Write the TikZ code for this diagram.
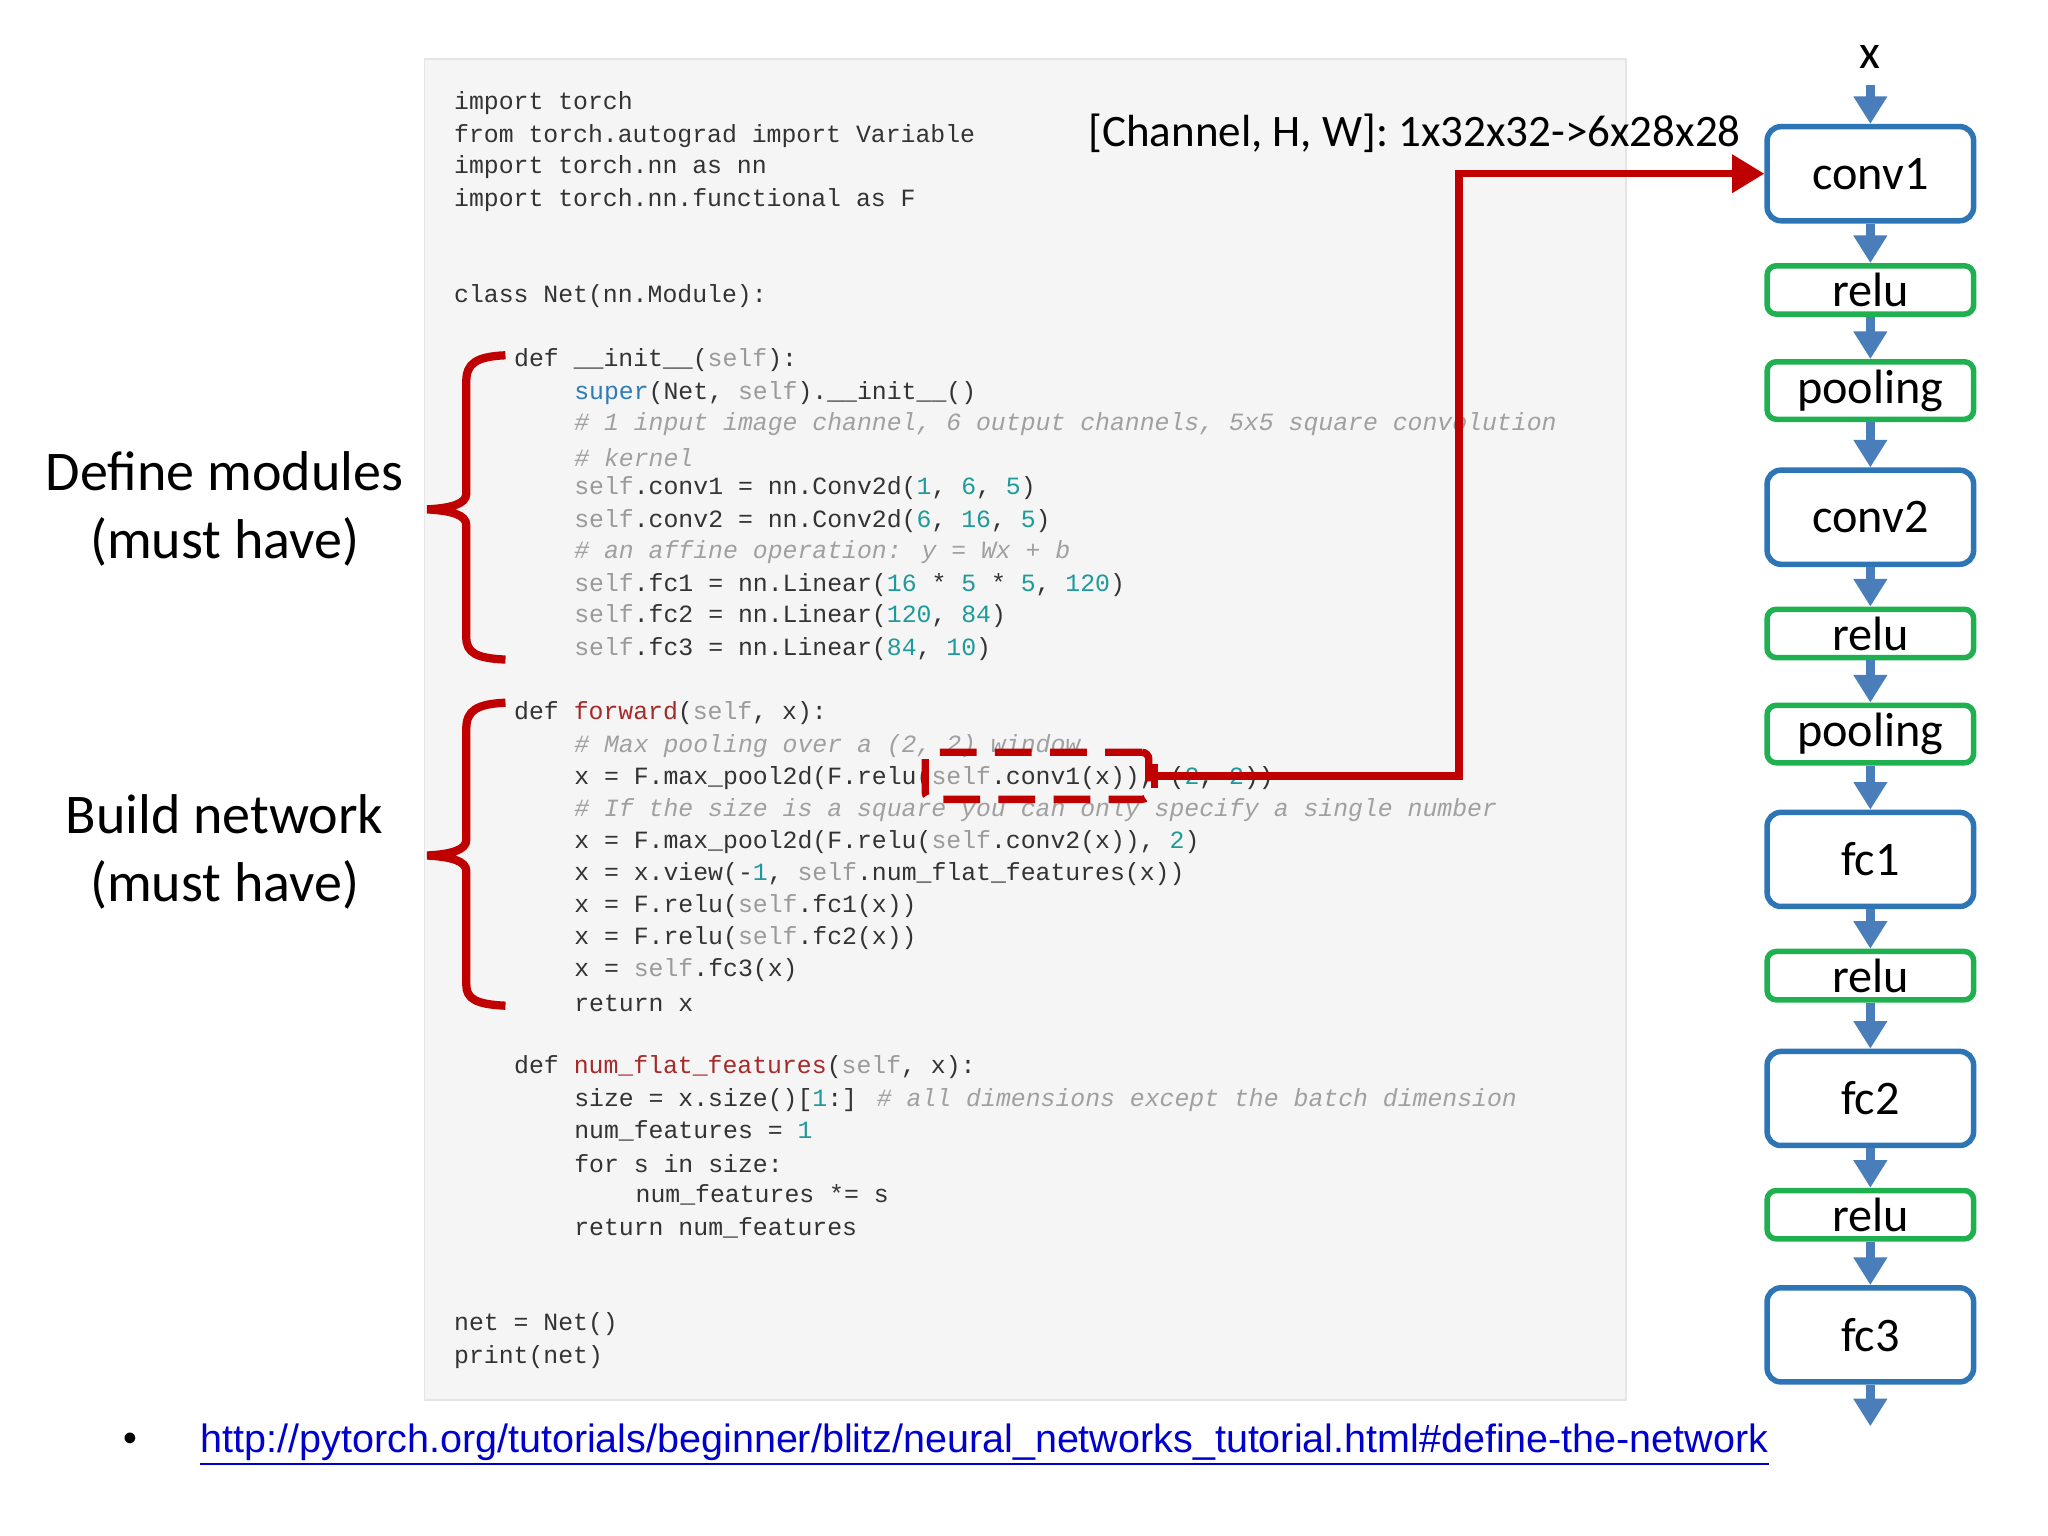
\documentclass[tikz,border=0pt]{standalone}
\usepackage{fontspec}
\setmainfont{Carlito}
\newfontfamily\codefont{Liberation Mono}
\newfontfamily\linkfont{Liberation Sans}
\usetikzlibrary{arrows.meta,calc}
\definecolor{kw}{HTML}{333333}
\definecolor{sf}{HTML}{9A9A9A}
\definecolor{nm}{HTML}{1F9A9A}
\definecolor{bi}{HTML}{2F7BB5}
\definecolor{fn}{HTML}{A52A2A}
\definecolor{cm}{HTML}{A0A0A0}
\definecolor{dred}{HTML}{C00000}
\definecolor{bbox}{HTML}{2E75B6}
\definecolor{gbox}{HTML}{1FB050}
\definecolor{arr}{HTML}{4A7EBB}
\newcommand{\K}[1]{\textcolor{kw}{#1}}
\newcommand{\Sf}[1]{\textcolor{sf}{#1}}
\newcommand{\Nm}[1]{\textcolor{nm}{#1}}
\newcommand{\Bi}[1]{\textcolor{bi}{#1}}
\newcommand{\Fn}[1]{\textcolor{fn}{#1}}
\newcommand{\Cm}[1]{\textcolor{cm}{\itshape #1}}
\begin{document}
\begin{tikzpicture}[x=0.01cm,y=-0.01cm,
  code/.style={anchor=west,inner sep=0pt,font=\codefont\fontsize{5.4}{6}\selectfont,text=kw},
  bx/.style={draw=bbox,line width=1.2pt,rounded corners=3pt,minimum width=1.58cm,minimum height=0.72cm,font=\fontsize{10.5}{12}\selectfont,inner sep=0pt},
  gx/.style={draw=gbox,line width=1.2pt,rounded corners=2pt,minimum width=1.58cm,font=\fontsize{10.5}{12}\selectfont,inner sep=0pt},
  flow/.style={draw=arr,line width=2pt,-{Triangle[width=7pt,length=6pt]}},
  brace/.style={draw=dred,line width=1.8pt},
  lab/.style={align=center,font=\fontsize{12.2}{14.8}\selectfont}]
\useasboundingbox (0,0) rectangle (1568,1176);
\fill[fill=white] (0,0) rectangle (1568,1176);
\filldraw[fill=black!4,draw=black!10] (325,45) rectangle (1245,1072);
% code
\node[code] (l1) at (347,79) {\K{import} torch};
\node[code] (l2) at (347,104) {\K{from} torch.autograd \K{import} Variable};
\node[code] (l3) at (347,128) {\K{import} torch.nn \K{as} nn};
\node[code] (l4) at (347,153) {\K{import} torch.nn.functional \K{as} F};
\node[code] (l5) at (347,227) {\K{class} Net(nn.Module):};
\node[code] (l6) at (393,276) {\K{def} \_\_init\_\_(\Sf{self}):};
\node[code] (l7) at (439,301) {\Bi{super}(Net, \Sf{self}).\_\_init\_\_()};
\node[code] (l8) at (439,325) {\Cm{\# 1 input image channel, 6 output channels, 5x5 square convolution}};
\node[code] (l9) at (439,350) {\Cm{\# kernel}};
\node[code] (l10) at (439,374) {\Sf{self}.conv1 = nn.Conv2d(\Nm{1}, \Nm{6}, \Nm{5})};
\node[code] (l11) at (439,399) {\Sf{self}.conv2 = nn.Conv2d(\Nm{6}, \Nm{16}, \Nm{5})};
\node[code] (l12) at (439,423) {\Cm{\# an affine operation: y = Wx + b}};
\node[code] (l13) at (439,448) {\Sf{self}.fc1 = nn.Linear(\Nm{16} * \Nm{5} * \Nm{5}, \Nm{120})};
\node[code] (l14) at (439,472) {\Sf{self}.fc2 = nn.Linear(\Nm{120}, \Nm{84})};
\node[code] (l15) at (439,497) {\Sf{self}.fc3 = nn.Linear(\Nm{84}, \Nm{10})};
\node[code] (l16) at (393,546) {\K{def} \Fn{forward}(\Sf{self}, x):};
\node[code] (l17) at (439,571) {\Cm{\# Max pooling over a (2, 2) window}};
\node[code] (l18) at (439,596) {x = F.max\_pool2d(F.relu(\Sf{self}.conv1(x)), (\Nm{2}, \Nm{2}))};
\node[code] (l19) at (439,620) {\Cm{\# If the size is a square you can only specify a single number}};
\node[code] (l20) at (439,645) {x = F.max\_pool2d(F.relu(\Sf{self}.conv2(x)), \Nm{2})};
\node[code] (l21) at (439,669) {x = x.view(-\Nm{1}, \Sf{self}.num\_flat\_features(x))};
\node[code] (l22) at (439,694) {x = F.relu(\Sf{self}.fc1(x))};
\node[code] (l23) at (439,718) {x = F.relu(\Sf{self}.fc2(x))};
\node[code] (l24) at (439,743) {x = \Sf{self}.fc3(x)};
\node[code] (l25) at (439,768) {\K{return} x};
\node[code] (l26) at (393,817) {\K{def} \Fn{num\_flat\_features}(\Sf{self}, x):};
\node[code] (l27) at (439,842) {size = x.size()[\Nm{1}:]  \Cm{\# all dimensions except the batch dimension}};
\node[code] (l28) at (439,866) {num\_features = \Nm{1}};
\node[code] (l29) at (439,891) {\K{for} s \K{in} size:};
\node[code] (l30) at (486,915) {num\_features *= s};
\node[code] (l31) at (439,940) {\K{return} num\_features};
\node[code] (l32) at (347,1014) {net = Net()};
\node[code] (l33) at (347,1039) {print(net)};
% braces
\draw[brace] (387,272) .. controls (365,273) and (357,278) .. (357,292) -- (357,378) .. controls (357,386) and (345,389) .. (327,390) .. controls (345,391) and (357,394) .. (357,402) -- (357,488) .. controls (357,500) and (365,504) .. (387,505);
\draw[brace] (387,538) .. controls (365,539) and (357,544) .. (357,558) -- (357,643) .. controls (357,651) and (345,654) .. (327,655) .. controls (345,656) and (357,659) .. (357,667) -- (357,754) .. controls (357,765) and (365,769) .. (387,770);
\node[lab] (dm) at (172,390) {Define modules\\(must have)};
\node[lab] (bn) at (172,652) {Build network\\(must have)};
% right column
\node (x) at (1432,44) {\fontsize{10.5}{12}\selectfont x};
\node[bx] (c1) at (1432,133) {conv1};
\node[gx,minimum height=0.37cm] (r1) at (1432,222) {relu};
\node[gx,minimum height=0.44cm] (p1) at (1432,299) {pooling};
\node[bx] (c2) at (1432,396) {conv2};
\node[gx,minimum height=0.37cm] (r2) at (1432,485) {relu};
\node[gx,minimum height=0.44cm] (p2) at (1432,562) {pooling};
\node[bx] (f1) at (1432,658) {fc1};
\node[gx,minimum height=0.37cm] (r3) at (1432,747) {relu};
\node[bx] (f2) at (1432,841) {fc2};
\node[gx,minimum height=0.37cm] (r4) at (1432,930) {relu};
\node[bx] (f3) at (1432,1022) {fc3};
\coordinate (out) at (1432,1092);
\draw[flow] (x) -- (c1);
\draw[flow] (c1) -- (r1);
\draw[flow] (r1) -- (p1);
\draw[flow] (p1) -- (c2);
\draw[flow] (c2) -- (r2);
\draw[flow] (r2) -- (p2);
\draw[flow] (p2) -- (f1);
\draw[flow] (f1) -- (r3);
\draw[flow] (r3) -- (f2);
\draw[flow] (f2) -- (r4);
\draw[flow] (r4) -- (f3);
\draw[flow] (f3) -- (out);
% red connector
\node[draw=dred,line width=1.6pt,rounded corners=1.5pt,dash pattern=on 8pt off 4pt,minimum width=1.71cm,minimum height=0.36cm] (dash) at (794,594) {};
\coordinate (st) at (884,594);
\draw[dred,line width=1.6pt] (884,585) -- (884,603);
\draw[dred,line width=1.6pt,-{Triangle[width=8pt,length=7pt]}] (st) -- (1117,594) |- (c1.west);
\node[font=\fontsize{9.8}{11}\selectfont] (lbl) at (1083,102) {[Channel, H, W]: 1x32x32->6x28x28};
% link
\node (bul) at (100,1104) {\linkfont\fontsize{8.6}{10}\selectfont •};
\node[anchor=west,inner sep=0pt] (link) at (153,1104) {\linkfont\fontsize{8.6}{10}\selectfont\textcolor{blue!80!black}{http://pytorch.org/tutorials/beginner/blitz/neural\_networks\_tutorial.html\#define-the-network}};
\draw[blue!80!black,line width=0.5pt] ($(link.south west)+(0,2)$) -- ($(link.south east)+(0,2)$);
\end{tikzpicture}
\end{document}
